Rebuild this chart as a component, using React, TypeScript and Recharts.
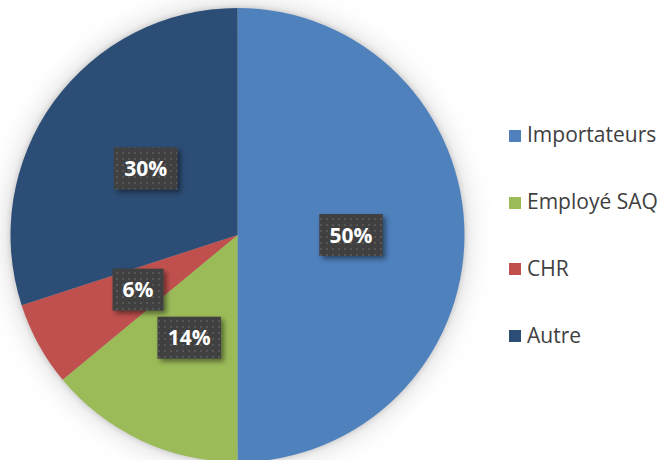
import React from "react";
import { PieChart, Pie, Cell, Legend } from "recharts";

const categories = ["Importateurs", "Employé SAQ", "CHR", "Autre"];
const shares = [50, 14, 6, 30];
const colors = ["#4F81BD", "#9BBB59", "#C0504D", "#2C4D75"];

const data = categories.map((name, i) => ({ name, value: shares[i], fill: colors[i] }));

const RADIAN = Math.PI / 180;
const FONT = "'Open Sans', sans-serif";

// dark patterned box with the percentage, placed at half the radius
function BoxLabel(props: any) {
  const { cx, cy, midAngle, outerRadius, percent } = props;
  const r = outerRadius * 0.5;
  const x = cx + r * Math.cos(-midAngle * RADIAN);
  const y = cy + r * Math.sin(-midAngle * RADIAN);
  const text = `${Math.round(percent * 100)}%`;
  const w = 20 + 18.5 + (text.length - 1) * 12.5;
  const h = 42;
  return (
    <g>
      <rect x={x - w / 2} y={y - h / 2} width={w} height={h} fill="url(#dotPattern)" filter="url(#boxShadow)" />
      <text x={x} y={y + 7.5} textAnchor="middle" fill="#fff" fontFamily={FONT} fontWeight={700} fontSize={21}>
        {text}
      </text>
    </g>
  );
}

function LegendList({ payload }: any) {
  // keep the data order, not alphabetical
  const items = [...(payload ?? [])].sort(
    (a: any, b: any) => categories.indexOf(a.value) - categories.indexOf(b.value)
  );
  return (
    <div style={{ fontFamily: FONT, fontSize: 21, color: "#404040" }}>
      {items.map((entry: any) => (
        <div key={entry.value} style={{ height: 66.8, display: "flex", alignItems: "center" }}>
          <span
            style={{
              width: 12, height: 12, marginTop: 3, marginRight: 6, flexShrink: 0,
              backgroundColor: colors[categories.indexOf(entry.value)],
            }}
          />
          <span style={{ whiteSpace: "nowrap" }}>{entry.value}</span>
        </div>
      ))}
    </div>
  );
}

export default function App() {
  return (
    <div style={{ position: "relative", width: 664, height: 460, background: "#fff", overflow: "hidden" }}>
      <style>{`
        body { margin: 0; }
        .recharts-pie { filter: drop-shadow(0 0 3px rgba(0,0,0,0.18)) drop-shadow(0 0 14px rgba(0,0,0,0.18)); }
      `}</style>
      <svg width={0} height={0} style={{ position: "absolute" }}>
        <defs>
          <pattern id="dotPattern" width={6} height={6} patternUnits="userSpaceOnUse">
            <rect width={6} height={6} fill="#404040" />
            <rect x={2} y={2} width={2} height={2} fill="#575757" />
          </pattern>
          <filter id="boxShadow" x="-30%" y="-30%" width="160%" height="170%">
            <feDropShadow dx={3} dy={3} stdDeviation={2.5} floodColor="#000" floodOpacity={0.45} />
          </filter>
        </defs>
      </svg>
      <PieChart width={664} height={460} margin={{ top: 0, right: 0, bottom: 0, left: 0 }}>
        <Pie
          data={data}
          dataKey="value"
          nameKey="name"
          cx={237.5}
          cy={235}
          outerRadius={227}
          startAngle={90}
          endAngle={-270}
          stroke="none"
          label={BoxLabel}
          labelLine={false}
          isAnimationActive={false}
        >
          {data.map((d) => (
            <Cell key={d.name} fill={d.fill} />
          ))}
        </Pie>
        <Legend
          layout="vertical"
          align="right"
          verticalAlign="top"
          content={<LegendList />}
          wrapperStyle={{ left: 509, top: 101, width: 155 }}
        />
      </PieChart>
    </div>
  );
}
